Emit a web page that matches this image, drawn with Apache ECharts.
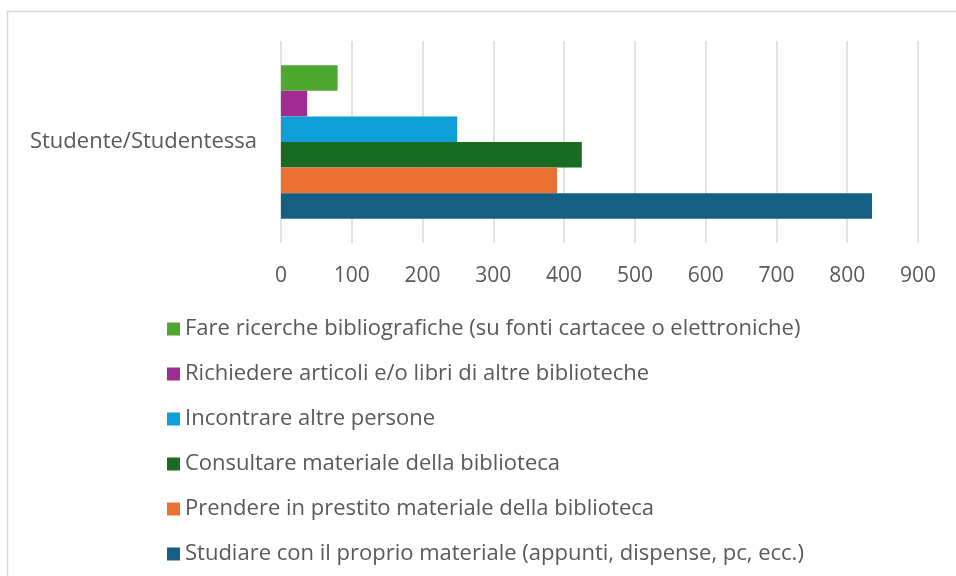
<!DOCTYPE html>
<html>
<head>
<meta charset="utf-8">
<script src="https://cdn.jsdelivr.net/npm/echarts@6/dist/echarts.min.js"></script>
<style>
  html, body { margin: 0; padding: 0; background: #fff; }
  #chart { width: 956px; height: 576px; }
</style>
</head>
<body>
<div id="chart"></div>
<script>
  // categories and series (one group, six activities)
  const categories = ['Studente/Studentessa']
  const seriesNames = [
    'Fare ricerche bibliografiche (su fonti cartacee o elettroniche)',
    'Richiedere articoli e/o libri di altre biblioteche',
    'Incontrare altre persone',
    'Consultare materiale della biblioteca',
    'Prendere in prestito materiale della biblioteca',
    'Studiare con il proprio materiale (appunti, dispense, pc, ecc.)'
  ]
  const seriesValues = [80, 37, 249, 425, 390, 835]
  const seriesColors = ['#4ea72e', '#a02b93', '#0f9ed5', '#196b24', '#e97132', '#156082']
  const xTicks = [0, 900, 100]  // min, max, interval

  const font = 'Open Sans'
  const textColor = '#595959'

  let chart = echarts.init(document.getElementById('chart'))

  chart.setOption({
    animation: false,
    textStyle: {fontFamily: font},
    graphic: [{
      type: 'rect',
      shape: {x: 7.5, y: 11.5, width: 1000, height: 1000},
      style: {fill: 'none', stroke: '#d9d9d9', lineWidth: 1.5},
      silent: true
    }],
    grid: {left: 281, right: 38, top: 41, bottom: 333, containLabel: false},
    legend: {
      orient: 'vertical',
      left: 162,
      top: 313,
      itemWidth: 13,
      itemHeight: 13,
      itemGap: 23,
      icon: 'rect',
      data: seriesNames,
      textStyle: {fontFamily: font, fontSize: 22, color: textColor}
    },
    xAxis: {
      type: 'value',
      min: xTicks[0],
      max: xTicks[1],
      interval: xTicks[2],
      axisLine: {show: false},
      axisTick: {show: false},
      splitLine: {lineStyle: {color: '#d9d9d9', width: 1.5}},
      axisLabel: {margin: 23, fontSize: 21, color: textColor, fontFamily: font}
    },
    yAxis: {
      type: 'category',
      data: categories,
      axisLine: {show: false},
      axisTick: {show: false},
      axisLabel: {margin: 24, fontSize: 22, color: textColor, fontFamily: font}
    },
    series: seriesNames.map(function (name, i) {
      return {
        name: name,
        type: 'bar',
        barGap: 0,
        barCategoryGap: '24%',
        itemStyle: {color: seriesColors[i]},
        data: [seriesValues[i]]
      }
    })
  })
</script>
</body>
</html>
